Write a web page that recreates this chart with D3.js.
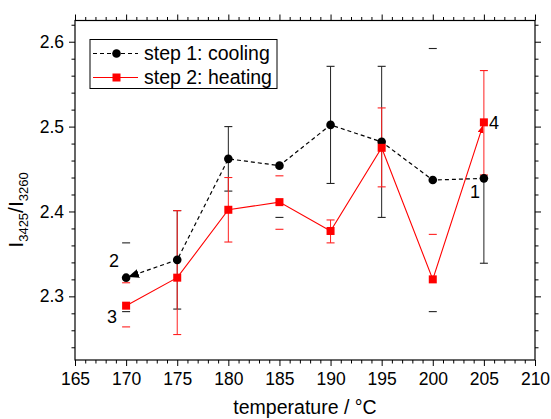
<!DOCTYPE html>
<html><head><meta charset="utf-8">
<script src="https://cdn.jsdelivr.net/npm/d3@7"></script>
<style>body{margin:0;background:#fff}svg{display:block;font-family:"Liberation Sans",Arial,sans-serif}</style>
</head><body><svg id="c" width="551" height="419"></svg>
<script>
const temps = [170, 175, 180, 185, 190, 195, 200, 205];
const coolVal  = [2.322, 2.343, 2.462, 2.454, 2.502, 2.482, 2.437, 2.439];
const coolLow  = [2.282, 2.285, 2.424, 2.393, 2.433, 2.393, 2.282, 2.339];
const coolHigh = [2.363, 2.401, 2.500, null, 2.571, 2.571, 2.592, null];
const heatVal  = [2.289, 2.322, 2.402, 2.411, 2.377, 2.475, 2.320, 2.505];
const heatLow  = [2.264, 2.255, 2.364, 2.379, 2.363, 2.429, null, 2.443];
const heatHigh = [2.316, 2.401, 2.440, 2.442, 2.390, 2.522, 2.373, 2.566];
const capsOnly = [170, 185, 200];
const xTicks = [165, 170, 175, 180, 185, 190, 195, 200, 205, 210];
const yTicks = [2.3, 2.4, 2.5, 2.6];
const seriesNames = ["step 1: cooling", "step 2: heating"];
const pointLabels = [{t:"2", x:170, v:2.322}, {t:"3", x:170, v:2.289}, {t:"1", x:205, v:2.439}, {t:"4", x:205, v:2.505}];

const svg = d3.select("#c");
const L=75, R=535, T=20.5, B=360;
const x = d3.scaleLinear().domain([165,210]).range([L,R]);
const y = d3.scaleLinear().domain([2.225,2.625]).range([B,T]);

// defs
const defs = svg.append("defs");
defs.append("marker").attr("id","arrK").attr("markerUnits","userSpaceOnUse")
  .attr("markerWidth",16).attr("markerHeight",10).attr("refX",13).attr("refY",4.5).attr("orient","auto")
  .append("path").attr("d","M0,0L11,4.5L0,9z").attr("fill","#000");
defs.append("marker").attr("id","arrR").attr("markerUnits","userSpaceOnUse")
  .attr("markerWidth",14).attr("markerHeight",8).attr("refX",11).attr("refY",3).attr("orient","auto")
  .append("path").attr("d","M0,0L8,3L0,6z").attr("fill","#f00");

svg.append("rect").attr("width",551).attr("height",419).attr("fill","#fff");

const minorX = d3.range(165,211,1).filter(v=>v%5!==0);
const minorY = d3.range(2.24,2.625,0.02).filter(v=>Math.abs(Math.round(v*10)-v*10)>0.01);

function styleAxis(g){ g.select(".domain").remove(); g.selectAll("line").attr("stroke","#000"); }
// bottom
svg.append("g").attr("transform",`translate(0,${B})`)
  .call(d3.axisBottom(x).tickValues(xTicks).tickSize(6).tickPadding(7).tickFormat(d3.format("d")))
  .call(styleAxis).call(g=>g.selectAll("text").attr("font-size",17.5).attr("fill","#000").attr("font-family","Liberation Sans, Arial"));
svg.append("g").attr("transform",`translate(0,${B})`)
  .call(d3.axisBottom(x).tickValues(minorX).tickSize(3.5).tickFormat("")).call(styleAxis);
// top
svg.append("g").attr("transform",`translate(0,${T})`)
  .call(d3.axisTop(x).tickValues(xTicks).tickSize(6).tickFormat("")).call(styleAxis);
svg.append("g").attr("transform",`translate(0,${T})`)
  .call(d3.axisTop(x).tickValues(minorX).tickSize(3.5).tickFormat("")).call(styleAxis);
// left
svg.append("g").attr("transform",`translate(${L},0)`)
  .call(d3.axisLeft(y).tickValues(yTicks).tickSize(6).tickPadding(5).tickFormat(d3.format(".1f")))
  .call(styleAxis).call(g=>g.selectAll("text").attr("font-size",17.5).attr("fill","#000").attr("font-family","Liberation Sans, Arial"));
svg.append("g").attr("transform",`translate(${L},0)`)
  .call(d3.axisLeft(y).tickValues(minorY).tickSize(3.5).tickFormat("")).call(styleAxis);
// right
svg.append("g").attr("transform",`translate(${R},0)`)
  .call(d3.axisRight(y).tickValues(yTicks).tickSize(6).tickFormat("")).call(styleAxis);
svg.append("g").attr("transform",`translate(${R},0)`)
  .call(d3.axisRight(y).tickValues(minorY).tickSize(3.5).tickFormat("")).call(styleAxis);

svg.append("rect").attr("x",L).attr("y",T).attr("width",R-L).attr("height",B-T)
  .attr("fill","none").attr("stroke","#000").attr("stroke-width",1.2);

// axis titles
svg.append("text").attr("x",(L+R)/2).attr("y",414).attr("text-anchor","middle")
  .attr("font-size",19.5).text("temperature / °C");
const yt = svg.append("text").attr("transform","translate(23,210) rotate(-90)").attr("text-anchor","middle").attr("font-size",21);
yt.append("tspan").text("I");
yt.append("tspan").attr("font-size",13).attr("dy",5).text("3425");
yt.append("tspan").attr("dy",-5).text("/I");
yt.append("tspan").attr("font-size",13).attr("dy",5).text("3260");

// error bars
function errBars(vals, lows, highs, color){
  const g = svg.append("g");
  temps.forEach((t,i)=>{
    const cx = x(t);
    const lo = lows[i], hi = highs[i];
    if(!capsOnly.includes(t)){
      g.append("line").attr("x1",cx).attr("x2",cx)
        .attr("y1",y(hi==null?vals[i]:hi)).attr("y2",y(lo==null?vals[i]:lo))
        .attr("stroke",color).attr("stroke-width",1);
    }
    [lo,hi].forEach(v=>{ if(v!=null) g.append("line").attr("x1",cx-4).attr("x2",cx+4)
      .attr("y1",y(v)).attr("y2",y(v)).attr("stroke",color).attr("stroke-width",1.1); });
  });
}
errBars(coolVal, coolLow, coolHigh, "#222");
errBars(heatVal, heatLow, heatHigh, "#ff2020");

// lines
const line = d3.line().x(d=>x(d[0])).y(d=>y(d[1]));
const coolPts = temps.map((t,i)=>[t,coolVal[i]]).reverse();
const heatPts = temps.map((t,i)=>[t,heatVal[i]]);
svg.append("path").attr("d",line(coolPts)).attr("fill","none").attr("stroke","#000")
  .attr("stroke-width",1.2).attr("stroke-dasharray","4,3").attr("marker-end","url(#arrK)");
svg.append("path").attr("d",line(heatPts)).attr("fill","none").attr("stroke","#f00")
  .attr("stroke-width",1.1).attr("marker-end","url(#arrR)");

// markers
svg.append("g").selectAll("circle").data(coolPts).join("circle")
  .attr("cx",d=>x(d[0])).attr("cy",d=>y(d[1])).attr("r",4.3).attr("fill","#000");
svg.append("g").selectAll("rect").data(heatPts).join("rect")
  .attr("x",d=>x(d[0])-4).attr("y",d=>y(d[1])-4).attr("width",8).attr("height",8).attr("fill","#f00");

// point labels
const off = {"2":[-12,-17],"3":[-14,11],"1":[-9,13],"4":[10,0]};
svg.append("g").selectAll("text").data(pointLabels).join("text")
  .attr("x",d=>x(d.x)+off[d.t][0]).attr("y",d=>y(d.v)+off[d.t][1]).attr("dy","0.35em")
  .attr("text-anchor","middle").attr("font-size",18).text(d=>d.t);

// legend
const lg = svg.append("g");
lg.append("rect").attr("x",90).attr("y",39.5).attr("width",187).attr("height",49)
  .attr("fill","#fff").attr("stroke","#000").attr("stroke-width",1);
const rows = [53.5, 77.5];
lg.append("line").attr("x1",93).attr("x2",138).attr("y1",rows[0]).attr("y2",rows[0])
  .attr("stroke","#000").attr("stroke-width",1.2).attr("stroke-dasharray","4,3");
lg.append("circle").attr("cx",116.5).attr("cy",rows[0]).attr("r",4.3).attr("fill","#000");
lg.append("line").attr("x1",93).attr("x2",138).attr("y1",rows[1]).attr("y2",rows[1])
  .attr("stroke","#f00").attr("stroke-width",1.1);
lg.append("rect").attr("x",112.5).attr("y",rows[1]-4).attr("width",8).attr("height",8).attr("fill","#f00");
seriesNames.forEach((n,i)=>lg.append("text").attr("x",144).attr("y",rows[i]).attr("dy","0.35em")
  .attr("font-size",19.5).text(n));
</script></body></html>
